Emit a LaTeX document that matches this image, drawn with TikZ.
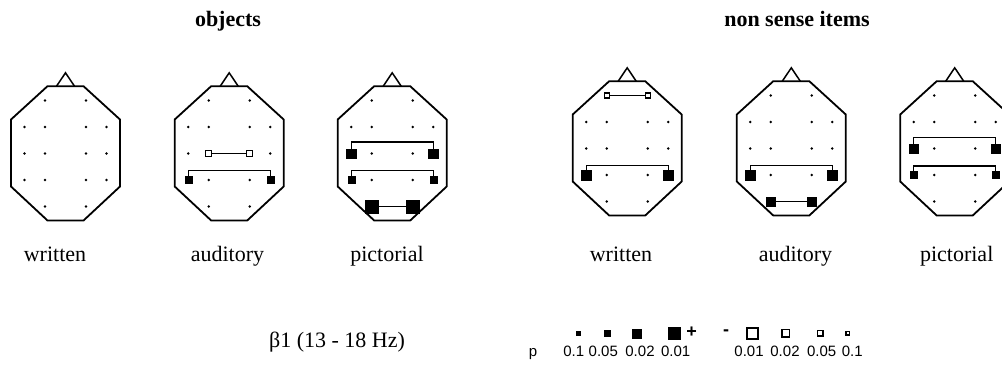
\documentclass[tikz,border=0pt]{standalone}
\usepackage{fontspec}
\setmainfont{Liberation Serif}
\newfontfamily\legfont{Liberation Sans}
\usetikzlibrary{backgrounds}
\newcommand\drawhead[3]{%
  \begin{scope}[shift={(#2,#3)}]
    \draw[outline] (-18,-67.3) -- (18,-67.3) -- (54.5,-34) -- (54.5,33) -- (18,67) -- (-18,67) -- (-54.5,33) -- (-54.5,-34) -- cycle;
    \draw[nose] (-9,-67.3) -- (0,-80.7) -- (9,-67.3);
    \foreach \r/\y in {2/-26.5,3/0,4/26.5}
      \foreach \c/\x in {1/-41,2/-20.5,3/20.5,4/41}
        \node[elec] (#1-\r\c) at (\x,\y) {};
    \foreach \r/\y in {1/-53,5/53}
      \foreach \c/\x in {2/-20.5,3/20.5}
        \node[elec] (#1-\r\c) at (\x,\y) {};
  \end{scope}}
\begin{document}
\begin{tikzpicture}[x=1pt,y=-1pt,
  outline/.style={line width=1.8pt, line join=miter},
  nose/.style={line width=1.5pt},
  elec/.style={circle, fill=black, inner sep=0pt, minimum size=2.8pt},
  fsq/.style={rectangle, fill=black, draw=black, line width=0.4pt, inner sep=0pt, minimum size=#1},
  osq/.style={rectangle, fill=white, draw=black, line width=1.4pt, inner sep=0pt, minimum size=#1},
  link/.style={line width=1.4pt},
  lbl/.style={font=\fontsize{22}{24}\selectfont, anchor=base, inner sep=0pt},
  ttl/.style={font=\fontsize{22}{24}\selectfont\bfseries, anchor=base, inner sep=0pt},
  leg/.style={font=\legfont\fontsize{15}{17}\selectfont, anchor=base, inner sep=0pt},
  sgn/.style={font=\legfont\bfseries\fontsize{18}{20}\selectfont, inner sep=0pt}]
\useasboundingbox (0,0) rectangle (1002,368);
\clip (0,0) rectangle (1002,368);

% titles
\node[ttl] (tobj) at (228,26) {objects};
\node[ttl] (tns) at (797,26) {non sense items};

% heads
\drawhead{A}{65.5}{153.5}
\drawhead{B}{229.2}{153.5}
\drawhead{C}{392.2}{153.5}
\drawhead{D}{627.2}{148.5}
\drawhead{E}{791.3}{148.5}
\drawhead{F}{954.7}{148.5}

% head B: auditory objects
\node[osq=6pt] (B-32s) at (B-32) {};
\node[osq=6pt] (B-33s) at (B-33) {};
\node[fsq=7pt] (B-41s) at (B-41) {};
\node[fsq=7pt] (B-44s) at (B-44) {};
% head C: pictorial objects
\node[fsq=9.5pt] (C-31s) at (C-31) {};
\node[fsq=9.5pt] (C-34s) at (C-34) {};
\node[fsq=7pt] (C-41s) at (C-41) {};
\node[fsq=7pt] (C-44s) at (C-44) {};
\node[fsq=12.5pt] (C-52s) at (C-52) {};
\node[fsq=12.5pt] (C-53s) at (C-53) {};
% head D: written nonsense
\node[osq=5pt, line width=1.1pt] (D-12s) at (D-12) {};
\node[osq=5pt, line width=1.1pt] (D-13s) at (D-13) {};
\node[fsq=9.5pt] (D-41s) at (D-41) {};
\node[fsq=9.5pt] (D-44s) at (D-44) {};
% head E: auditory nonsense
\node[fsq=9.5pt] (E-41s) at (E-41) {};
\node[fsq=9.5pt] (E-44s) at (E-44) {};
\node[fsq=9.5pt] (E-52s) at (E-52) {};
\node[fsq=9.5pt] (E-53s) at (E-53) {};
% head F: pictorial nonsense
\node[fsq=9.5pt] (F-31s) at (F-31) {};
\node[fsq=9.5pt] (F-34s) at (F-34) {};
\node[fsq=7pt] (F-41s) at (F-41) {};
\node[fsq=7pt] (F-44s) at (F-44) {};

\begin{pgfonlayer}{background}
  \draw[link] (B-32s.center) -- (B-33s.center);
  \draw[link] (B-41s.center) -- ++(0,-9.7) -| (B-44s.center);
  \draw[link] (C-31s.center) -- ++(0,-11.5) -| (C-34s.center);
  \draw[link] (C-41s.center) -- ++(0,-9.7) -| (C-44s.center);
  \draw[link] (C-52s.center) -- (C-53s.center);
  \draw[link] (D-12s.center) -- (D-13s.center);
  \draw[link] (D-41s.center) -- ++(0,-9.7) -| (D-44s.center);
  \draw[link] (E-41s.center) -- ++(0,-9.5) -| (E-44s.center);
  \draw[link] (E-52s.center) -- (E-53s.center);
  \draw[link] (F-31s.center) -- ++(0,-11) -| (F-34s.center);
  \draw[link] (F-41s.center) -- ++(0,-9) -| (F-44s.center);
\end{pgfonlayer}

% condition labels
\node[lbl] (lA) at (55,261) {written};
\node[lbl] (lB) at (227.5,261) {auditory};
\node[lbl] (lC) at (387,261) {pictorial};
\node[lbl] (lD) at (621,261) {written};
\node[lbl] (lE) at (795.5,261) {auditory};
\node[lbl] (lF) at (956.7,261) {pictorial};

% frequency band
\node[lbl] (band) at (337,347) {β1 (13 - 18 Hz)};

% legend
\node[fsq=4.5pt] (q1) at (578.3,333.3) {};
\node[fsq=6.5pt] (q2) at (607.3,333.3) {};
\node[fsq=9pt] (q3) at (636.7,333.3) {};
\node[fsq=12.5pt] (q4) at (674,333.3) {};
\node[sgn] (plus) at (691.7,332.5) {+};
\node[sgn] (minus) at (726,332.5) {-};
\node[osq=11pt, line width=1.8pt] (q5) at (752.3,333.3) {};
\node[osq=7.5pt, line width=1.7pt] (q6) at (785.7,333.3) {};
\node[osq=5.5pt, line width=1.5pt] (q7) at (820,333.3) {};
\node[osq=3.5pt, line width=1.5pt] (q8) at (847.7,333.3) {};
\node[leg] (pl) at (533,356.7) {p};
\node[leg] (v1) at (573.7,356.7) {0.1};
\node[leg] (v2) at (603.3,356.7) {0.05};
\node[leg] (v3) at (640,356.7) {0.02};
\node[leg] (v4) at (675.7,356.7) {0.01};
\node[leg] (v5) at (749,356.7) {0.01};
\node[leg] (v6) at (785,356.7) {0.02};
\node[leg] (v7) at (821.7,356.7) {0.05};
\node[leg] (v8) at (852.3,356.7) {0.1};
\end{tikzpicture}
\end{document}
